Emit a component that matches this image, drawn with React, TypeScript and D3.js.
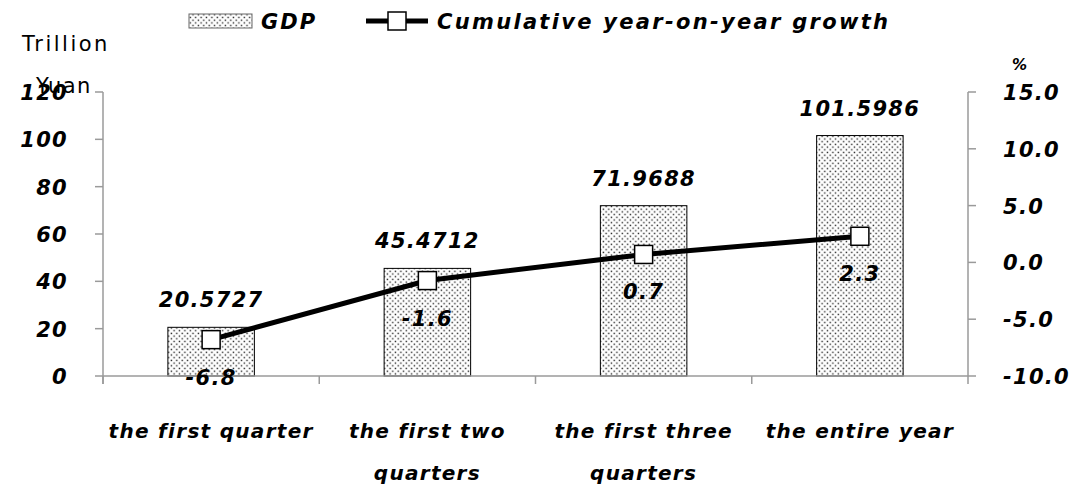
import React from "react";
import * as d3 from "d3";

const categories: string[][] = [
  ["the first quarter"],
  ["the first two", "quarters"],
  ["the first three", "quarters"],
  ["the entire year"],
];
const gdp = [20.5727, 45.4712, 71.9688, 101.5986];
const gdpLabels = ["20.5727", "45.4712", "71.9688", "101.5986"];
const growth = [-6.8, -1.6, 0.7, 2.3];
const leftTicks = [0, 20, 40, 60, 80, 100, 120];
const rightTicks = [-10, -5, 0, 5, 10, 15];

const FONT = "'DejaVu Sans', sans-serif";

export default function App() {
  const W = 1089, H = 486;
  const x0 = 103, x1 = 968, yTop = 92, yBot = 376;
  const x = d3.scaleBand<number>().domain(d3.range(categories.length)).range([x0, x1]).padding(0);
  const yL = d3.scaleLinear().domain([0, 120]).range([yBot, yTop]);
  const yR = d3.scaleLinear().domain([-10, 15]).range([yBot, yTop]);
  const bw = x.bandwidth() * 0.4;
  const cx = (i: number) => (x(i) as number) + x.bandwidth() / 2;
  const line = d3.line<number>().x((_, i) => cx(i)).y((d) => yR(d));
  const axisColor = "#9a9a9a";
  const txt = { fontFamily: FONT, fontWeight: 700, fontStyle: "italic" as const, fill: "#000", letterSpacing: 1.3 };
  return (
    <svg width={W} height={H} style={{ position: "absolute", left: 0, top: 0 }}>
      <defs>
        <pattern id="dots" width="5.4" height="5.4" patternUnits="userSpaceOnUse">
          <rect width="5.4" height="5.4" fill="#fff" />
          <rect x="0.6" y="0.6" width="1.4" height="1.4" fill="#222" />
          <rect x="3.3" y="3.3" width="1.4" height="1.4" fill="#222" />
        </pattern>
      </defs>
      <rect width={W} height={H} fill="#fff" />
      {/* legend */}
      <rect x={189} y={14} width={63} height={14} fill="url(#dots)" stroke="#666" strokeWidth={1} />
      <text x={261} y={29} fontSize={21} {...txt} letterSpacing={2}>GDP</text>
      <line x1={366} x2={428} y1={21} y2={21} stroke="#000" strokeWidth={5} />
      <rect x={388} y={12} width={18} height={18} fill="#fff" stroke="#000" strokeWidth={1.5} />
      <text x={437} y={29} fontSize={21} {...txt} letterSpacing={2.3}>Cumulative year-on-year growth</text>
      {/* axis titles */}
      <text x={22} y={51} fontSize={21} fontFamily={FONT} fill="#000" letterSpacing={2.5}>Trillion</text>
      <text x={36} y={93} fontSize={21} fontFamily={FONT} fill="#000" letterSpacing={1.5}>Yuan</text>
      <text x={1012} y={70} fontSize={15} {...txt}>%</text>
      {/* bars */}
      {gdp.map((v, i) => (
        <rect key={i} x={cx(i) - bw / 2} y={yL(v)} width={bw} height={yBot - yL(v)} fill="url(#dots)" stroke="#000" strokeWidth={1} />
      ))}
      {/* axes */}
      <line x1={x0} x2={x0} y1={yTop} y2={yBot + 8} stroke={axisColor} strokeWidth={1.5} />
      {leftTicks.map((t) => (
        <g key={t}>
          <line x1={x0 - 8} x2={x0} y1={yL(t)} y2={yL(t)} stroke={axisColor} strokeWidth={1.5} />
          <text x={68} y={yL(t) + 8} fontSize={21} textAnchor="end" {...txt}>{t}</text>
        </g>
      ))}
      <line x1={x1} x2={x1} y1={yTop} y2={yBot + 8} stroke={axisColor} strokeWidth={1.5} />
      {rightTicks.map((t) => (
        <g key={t}>
          <line x1={x1} x2={x1 + 8} y1={yR(t)} y2={yR(t)} stroke={axisColor} strokeWidth={1.5} />
          <text x={1003} y={yR(t) + 8} fontSize={21} {...txt}>{t.toFixed(1)}</text>
        </g>
      ))}
      <line x1={x0} x2={x1} y1={yBot} y2={yBot} stroke={axisColor} strokeWidth={1.5} />
      {categories.map((_, i) => (
        <line key={i} x1={x(i) as number} x2={x(i) as number} y1={yBot} y2={yBot + 8} stroke={axisColor} strokeWidth={1.5} />
      ))}
      {categories.map((lines, i) => (
        <text key={i} x={cx(i)} y={438} fontSize={20} textAnchor="middle" {...txt}>
          {lines.map((l, j) => (
            <tspan key={j} x={cx(i)} dy={j === 0 ? 0 : 42}>{l}</tspan>
          ))}
        </text>
      ))}
      {/* GDP labels */}
      {gdp.map((v, i) => (
        <text key={i} x={cx(i)} y={yL(v) - 20} fontSize={21} textAnchor="middle" {...txt}>{gdpLabels[i]}</text>
      ))}
      {/* growth line */}
      <path d={line(growth) || ""} fill="none" stroke="#000" strokeWidth={5} />
      {growth.map((v, i) => (
        <rect key={i} x={cx(i) - 9} y={yR(v) - 9} width={18} height={18} fill="#fff" stroke="#000" strokeWidth={1.5} />
      ))}
      {growth.map((v, i) => (
        <text key={i} x={cx(i)} y={yR(v) + 45} fontSize={21} textAnchor="middle" {...txt}>{v.toFixed(1)}</text>
      ))}
    </svg>
  );
}
